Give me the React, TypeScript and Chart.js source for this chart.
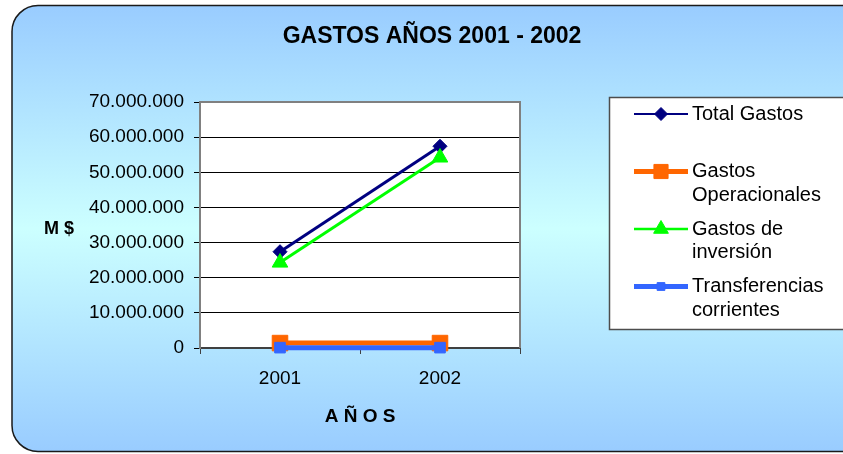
import React, { useEffect, useRef } from 'react';
import { Chart, registerables } from 'chart.js';
import { drawPoint } from 'chart.js/helpers';

Chart.register(...registerables);

const chartTitle = 'GASTOS AÑOS 2001 - 2002';
const xAxisTitle = 'A Ñ O S';
const yAxisTitle = 'M $';
const categories = ['2001', '2002'];
const totalGastos = [27400000, 57400000];
const gastosOperacionales = [1400000, 1400000];
const gastosInversion = [24300000, 54200000];
const transferenciasCorrientes = [100000, 100000];
const seriesLabels = ['Total Gastos', 'Gastos\nOperacionales', 'Gastos de\ninversión', 'Transferencias\ncorrientes'];
const seriesColors = ['#000080', '#FF6600', '#00FF00', '#3366FF'];
const yMin = 0;
const yMax = 70000000;
const yStep = 10000000;

const FONT = "'Liberation Sans', Arial, Helvetica, sans-serif";

const formatMiles = (v: number) => String(Math.round(v)).replace(/\B(?=(\d{3})+(?!\d))/g, '.');

const legendSymbols = [
  { style: 'rectRot', radius: 6.5, lineWidth: 2 },
  { style: 'rect', radius: 10, lineWidth: 5 },
  { style: 'triangle', radius: 8.5, lineWidth: 2.5 },
  { style: 'rect', radius: 5.5, lineWidth: 5 },
];

const decorPlugin = {
  id: 'decor',
  beforeDraw(chart: any) {
    const { ctx, chartArea } = chart;
    ctx.save();
    const x = 12, y = 5.5, w = 860, h = 446, r = 26;
    const g = ctx.createLinearGradient(0, y, 0, y + h);
    g.addColorStop(0, '#99CCFF');
    g.addColorStop(0.5, '#CCFFFF');
    g.addColorStop(1, '#99CCFF');
    ctx.beginPath();
    ctx.moveTo(x + r, y);
    ctx.lineTo(x + w - r, y);
    ctx.arcTo(x + w, y, x + w, y + r, r);
    ctx.lineTo(x + w, y + h - r);
    ctx.arcTo(x + w, y + h, x + w - r, y + h, r);
    ctx.lineTo(x + r, y + h);
    ctx.arcTo(x, y + h, x, y + h - r, r);
    ctx.lineTo(x, y + r);
    ctx.arcTo(x, y, x + r, y, r);
    ctx.closePath();
    ctx.fillStyle = g;
    ctx.fill();
    ctx.lineWidth = 1.5;
    ctx.strokeStyle = '#1a1a1a';
    ctx.stroke();
    ctx.fillStyle = '#FFFFFF';
    ctx.fillRect(chartArea.left, chartArea.top, chartArea.right - chartArea.left, chartArea.bottom - chartArea.top);
    // chart title
    ctx.fillStyle = '#000';
    ctx.font = `bold 23px ${FONT}`;
    ctx.textAlign = 'center';
    ctx.textBaseline = 'middle';
    ctx.fillText(chartTitle, 432, 37);
    ctx.restore();
  },
  beforeDatasetsDraw(chart: any) {
    const { ctx, chartArea } = chart;
    ctx.save();
    ctx.strokeStyle = '#808080';
    ctx.lineWidth = 2;
    ctx.beginPath();
    ctx.moveTo(chartArea.left, chartArea.top);
    ctx.lineTo(chartArea.right, chartArea.top);
    ctx.lineTo(chartArea.right, chartArea.bottom);
    ctx.stroke();
    ctx.restore();
  },
  afterDraw(chart: any) {
    const { ctx, chartArea } = chart;
    ctx.save();
    ctx.fillStyle = '#000';
    ctx.font = `bold 18px ${FONT}`;
    ctx.textAlign = 'center';
    ctx.textBaseline = 'middle';
    ctx.fillText(yAxisTitle, 59, (chartArea.top + chartArea.bottom) / 2 + 4);

    const bx = 609.5, by = 97.5, bw = 260, bh = 232;
    ctx.fillStyle = '#FFFFFF';
    ctx.fillRect(bx, by, bw, bh);
    ctx.strokeStyle = '#4d4d4d';
    ctx.lineWidth = 1.5;
    ctx.strokeRect(bx, by, bw, bh);

    const datasets = chart.data.datasets;
    datasets.forEach((ds: any, i: number) => {
      const cy = 114 + i * 57.5;
      const sym = legendSymbols[i];
      ctx.strokeStyle = ds.borderColor;
      ctx.lineWidth = sym.lineWidth;
      ctx.beginPath();
      ctx.moveTo(634, cy);
      ctx.lineTo(688, cy);
      ctx.stroke();
      ctx.fillStyle = ds.backgroundColor;
      ctx.strokeStyle = ds.borderColor;
      ctx.lineWidth = 1;
      drawPoint(ctx, { pointStyle: sym.style, radius: sym.radius, borderWidth: 1, rotation: 0 }, 661, cy);
      ctx.fillStyle = '#000';
      ctx.font = `20px ${FONT}`;
      ctx.textAlign = 'left';
      ctx.textBaseline = 'middle';
      String(ds.label).split('\n').forEach((line: string, j: number) => {
        ctx.fillText(line, 692, cy + j * 23.5);
      });
    });
    ctx.restore();
  },
};

export default function App() {
  const canvasRef = useRef<HTMLCanvasElement | null>(null);

  useEffect(() => {
    document.body.style.margin = '0';
    document.body.style.overflow = 'hidden';
    const canvas = canvasRef.current;
    if (!canvas) return;

    const values = [totalGastos, gastosOperacionales, gastosInversion, transferenciasCorrientes];
    const styles = [
      { pointStyle: 'rectRot', pointRadius: 7, borderWidth: 3 },
      { pointStyle: 'rect', pointRadius: 11, borderWidth: 5 },
      { pointStyle: 'triangle', pointRadius: 9, borderWidth: 3 },
      { pointStyle: 'rect', pointRadius: 7.5, borderWidth: 5 },
    ];

    const chart = new Chart(canvas, {
      type: 'line',
      data: {
        labels: categories,
        datasets: values.map((data, i) => ({
          label: seriesLabels[i],
          data,
          borderColor: seriesColors[i],
          backgroundColor: seriesColors[i],
          pointBackgroundColor: seriesColors[i],
          pointBorderColor: seriesColors[i],
          pointBorderWidth: 1,
          pointStyle: styles[i].pointStyle,
          pointRadius: styles[i].pointRadius,
          borderWidth: styles[i].borderWidth,
          tension: 0,
          fill: false,
          clip: false,
          order: 4 - i,
        })),
      },
      plugins: [decorPlugin],
      options: {
        animation: false,
        responsive: false,
        devicePixelRatio: 1,
        layout: { padding: { top: 102, right: 323, bottom: 0, left: 0 } },
        plugins: {
          legend: { display: false },
          tooltip: { enabled: false },
          title: { display: false },
        },
        scales: {
          x: {
            type: 'category',
            offset: true,
            afterFit: (scale: any) => { scale.height = 106; },
            grid: {
              display: true,
              drawOnChartArea: false,
              drawTicks: true,
              tickLength: 6,
              tickColor: '#404040',
              offset: true,
            },
            border: { display: true, color: '#404040', width: 2 },
            ticks: {
              color: '#000',
              padding: 13,
              maxRotation: 0,
              font: { family: FONT, size: 19 },
            },
            title: {
              display: true,
              text: xAxisTitle,
              color: '#000',
              font: { family: FONT, size: 19, weight: 'bold', lineHeight: 1.2 },
              padding: { top: 0, bottom: 25.6 },
            },
          },
          y: {
            min: yMin,
            max: yMax,
            afterFit: (scale: any) => { scale.width = 200; },
            grid: {
              color: '#000',
              lineWidth: 1,
              drawTicks: true,
              tickLength: 6,
              tickColor: '#000',
            },
            border: { display: true, color: '#808080', width: 2 },
            ticks: {
              stepSize: yStep,
              color: '#000',
              padding: 10,
              font: { family: FONT, size: 19 },
              callback: (v: any) => formatMiles(Number(v)),
            },
          },
        },
      },
    });

    return () => chart.destroy();
  }, []);

  return (
    <div style={{ width: 843, height: 454, position: 'relative' }}>
      <canvas ref={canvasRef} width={843} height={454} style={{ display: 'block', width: 843, height: 454 }} />
    </div>
  );
}
